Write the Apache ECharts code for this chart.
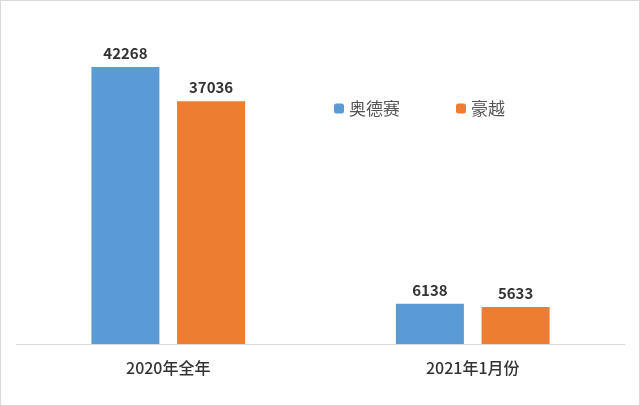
<!DOCTYPE html>
<html><head><meta charset="utf-8">
<script src="https://cdn.jsdelivr.net/npm/echarts@6/dist/echarts.min.js"></script>
<style>html,body{margin:0;padding:0;background:#fff}#c{width:638px;height:404px;border:1px solid #d9d9d9}</style>
</head><body><div id="c"></div>
<script>
const categories = ['2020年全年', '2021年1月份'];
const odyssey = [42268, 6138];
const haoyue = [37036, 5633];
const chart = echarts.init(document.getElementById('c'));
const lbl = {show:true, position:'top', color:'#333', fontSize:15, fontWeight:'bold', fontFamily:'Noto Sans CJK SC', distance:6};
chart.setOption({
  animation:false,
  grid:{left:15, right:14, top:48, bottom:61},
  legend:{left:328, top:94, itemWidth:10, itemHeight:10, itemGap:56,
    textStyle:{fontSize:17, color:'#555', fontFamily:'Noto Sans CJK SC'}, data:['奥德赛','豪越']},
  xAxis:{type:'category', data:categories, axisTick:{show:false},
    axisLine:{lineStyle:{color:'#d9d9d9'}},
    axisLabel:{fontSize:16, color:'#333', fontWeight:500, margin:16, fontFamily:'Noto Sans CJK SC'}},
  yAxis:{type:'value', min:0, max:45000, show:false, splitLine:{show:false}},
  series:[
    {name:'奥德赛', type:'bar', data:odyssey, barWidth:68, barGap:'26%', itemStyle:{color:'#5b9bd5'}, label:lbl},
    {name:'豪越', type:'bar', data:haoyue, barWidth:68, itemStyle:{color:'#ed7d31'}, label:lbl}
  ]
});
</script></body></html>
